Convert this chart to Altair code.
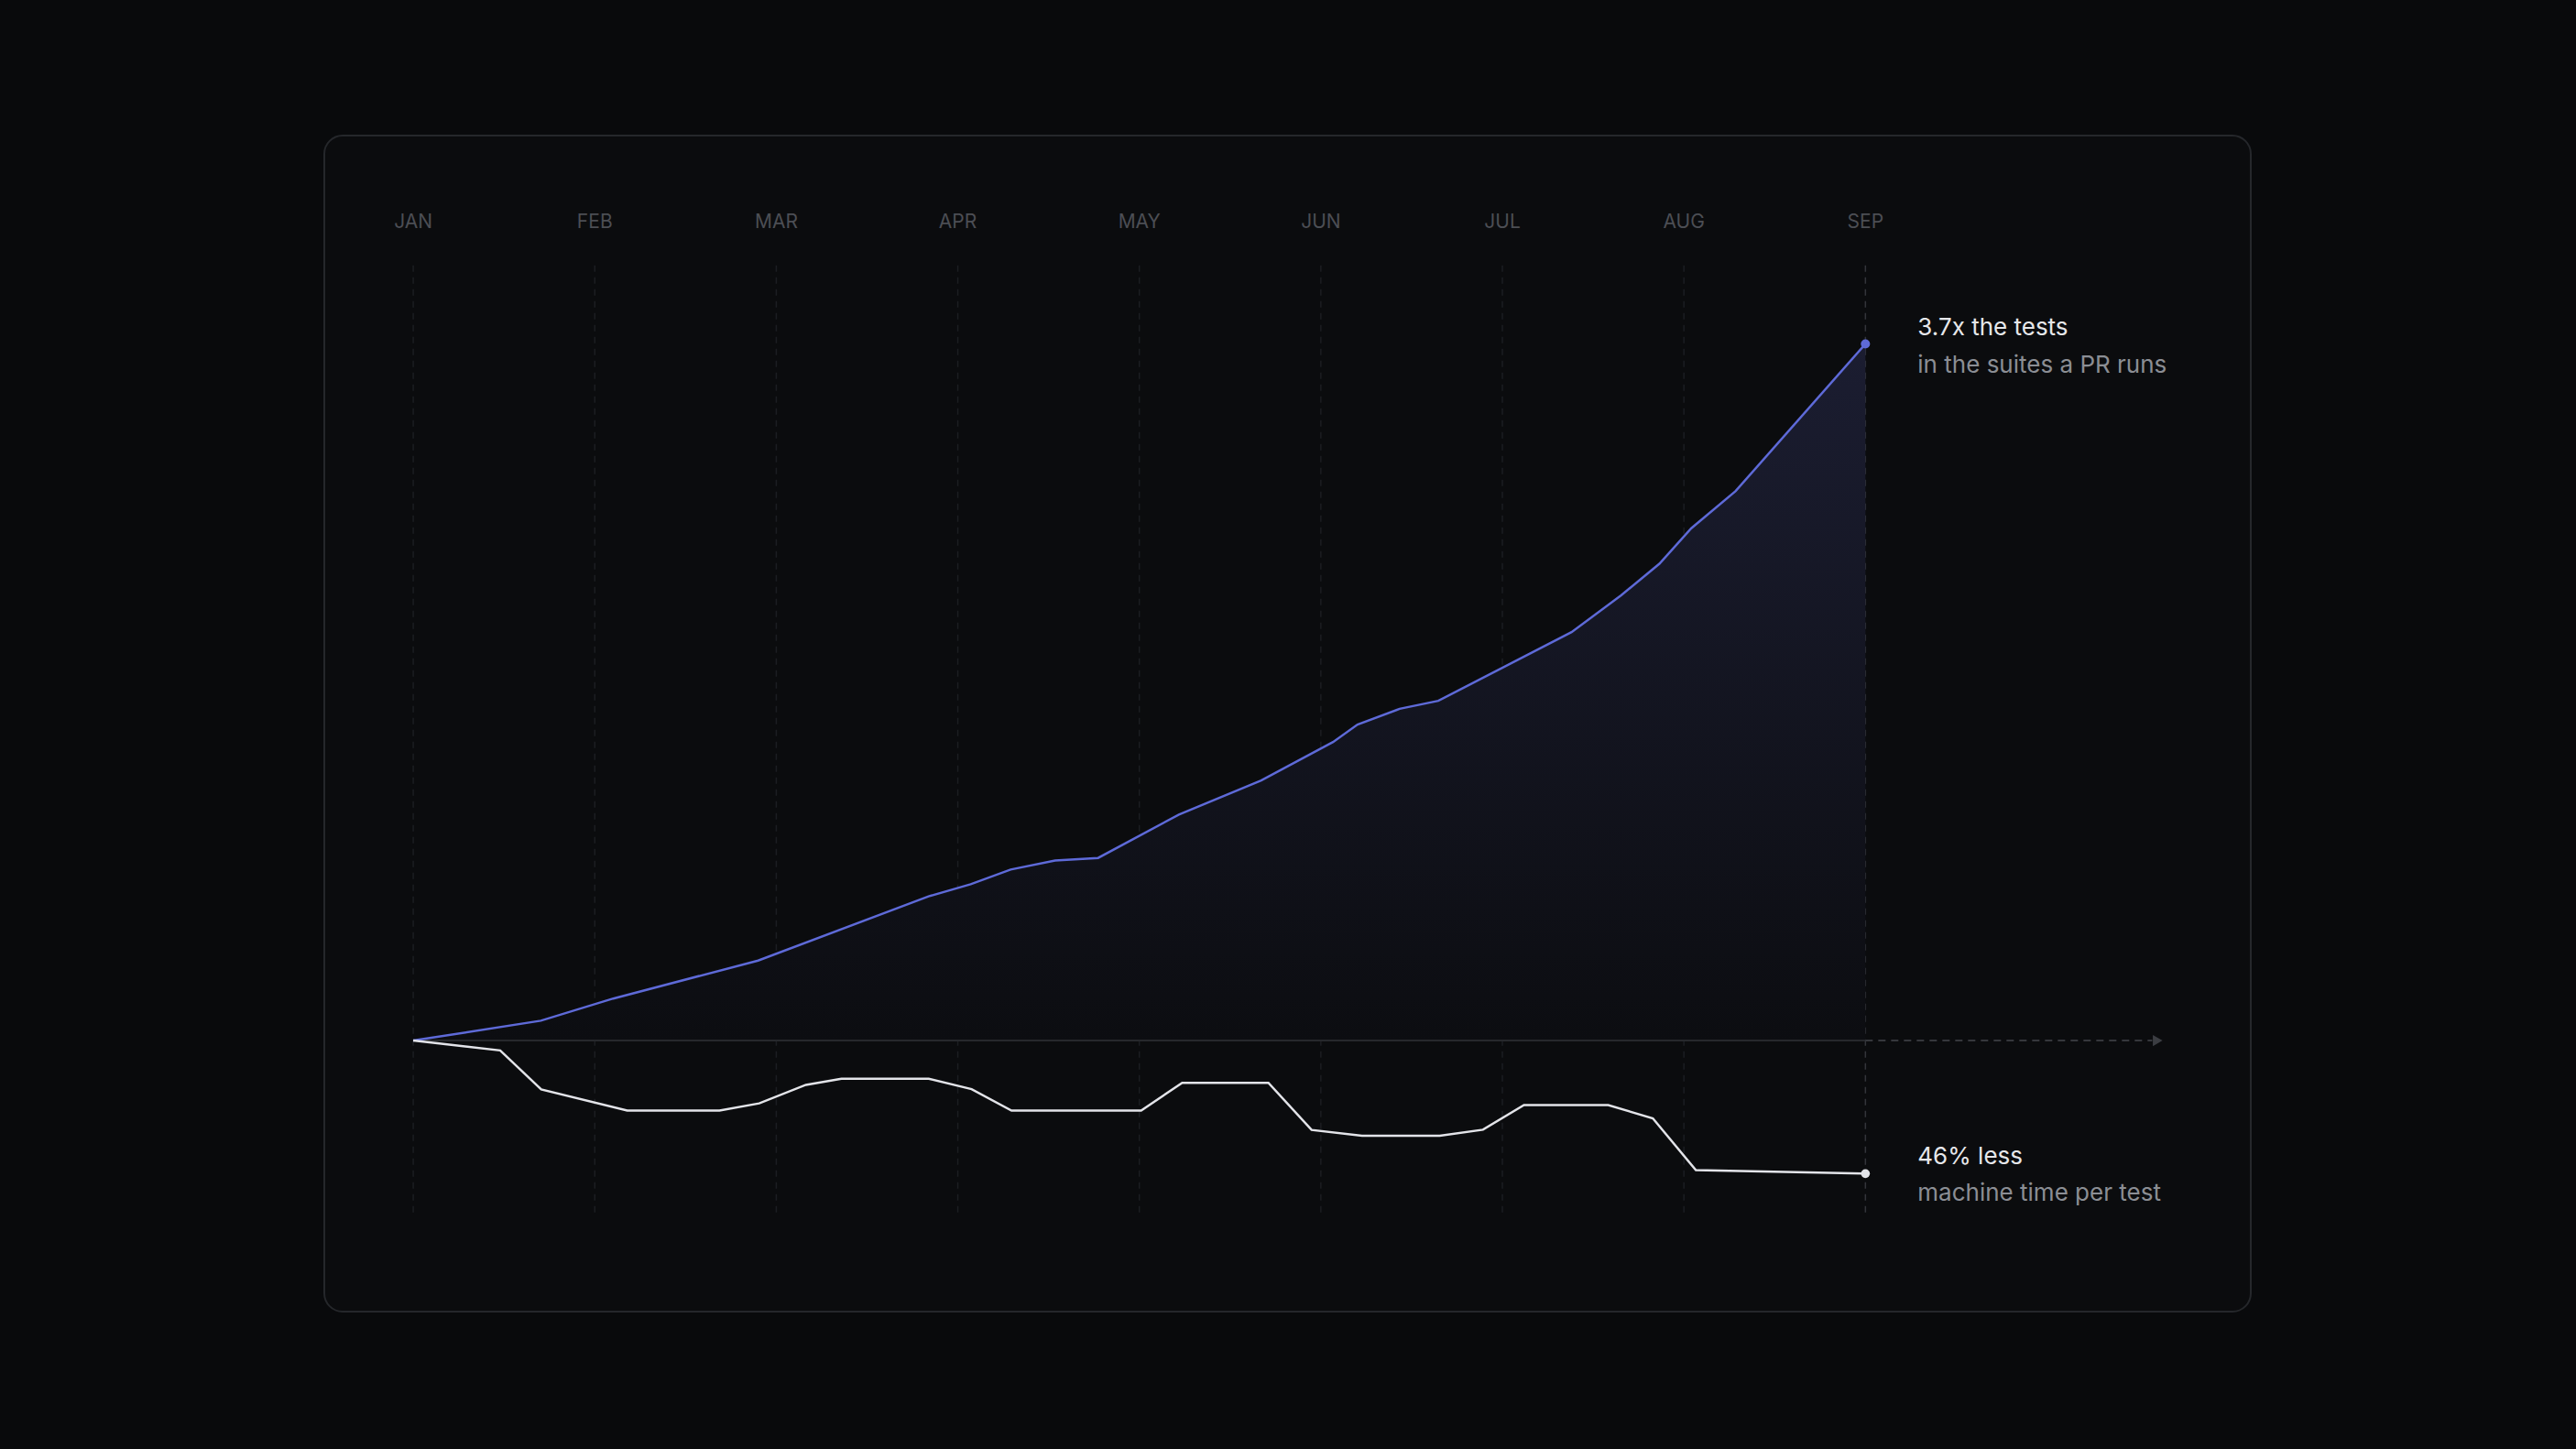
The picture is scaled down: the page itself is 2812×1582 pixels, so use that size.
import altair as alt
import pandas as pd
import jinja2

# ---------------- data ----------------
months = ["JAN", "FEB", "MAR", "APR", "MAY", "JUN", "JUL", "AUG", "SEP"]
month_pos = [0, 1, 2, 3, 4, 5, 6, 7, 8]

# tests in the suites a PR runs (multiple of January)
tests_m = [0, 0.703, 1.102, 1.900, 2.839, 3.071, 3.291, 3.536, 3.773, 4.218, 4.671,
           5.067, 5.202, 5.434, 5.647, 6.381, 6.654, 6.865, 7.041, 7.285, 8.0]
tests_v = [1.0, 1.077, 1.163, 1.310, 1.559, 1.606, 1.663, 1.698, 1.708, 1.876, 2.008,
           2.157, 2.225, 2.286, 2.317, 2.583, 2.726, 2.848, 2.986, 3.130, 3.7]

# machine time per test (relative to January)
time_m = [0, 0.479, 0.705, 1.179, 1.687, 1.906, 2.163, 2.359, 2.840, 3.076, 3.296,
          4.010, 4.236, 4.711, 4.949, 5.227, 5.655, 5.893, 6.119, 6.583, 6.829, 7.066, 8.0]
time_v = [1.0, 0.966, 0.831, 0.758, 0.758, 0.783, 0.847, 0.868, 0.868, 0.832, 0.758,
          0.758, 0.854, 0.854, 0.691, 0.671, 0.671, 0.692, 0.777, 0.777, 0.731, 0.552, 0.54]

tests_label = ["3.7x the tests", "in the suites a PR runs"]
time_label = ["46% less", "machine time per test"]

axis_end = 9.58   # where the dashed time axis ends (arrow)

# ---------------- frames ----------------
months_df = pd.DataFrame({"m": month_pos, "label": months})
tests_df = pd.DataFrame({"m": tests_m, "v": tests_v})
time_df = pd.DataFrame({"m": time_m, "v": time_v})
tests_end = tests_df.tail(1)
time_end = time_df.tail(1)

FONT = "Inter"
BG = "#090a0c"

x_scale = alt.Scale(domain=[-0.490, 10.123], nice=False, zero=False)
ty_scale = alt.Scale(domain=[-0.0506, 4.508], nice=False, zero=False)
wy_scale = alt.Scale(domain=[0.063, 4.129], nice=False, zero=False)

X = alt.X("m:Q", scale=x_scale, axis=None)

grid = alt.Chart(months_df).transform_filter("datum.m < 8").mark_rule(
    color="#1c1e22", strokeWidth=1.5, strokeDash=[7, 6]
).encode(x=X, y=alt.value(141.7), y2=alt.value(1175.7))

grid_sep = alt.Chart(months_df).transform_filter("datum.m == 8").mark_rule(
    color="#33353a", strokeWidth=1.5, strokeDash=[7, 6]
).encode(x=X, y=alt.value(141.7), y2=alt.value(1175.7))

month_text = alt.Chart(months_df).mark_text(
    font=FONT, fontSize=21, color="#4c4e54", baseline="middle", align="center"
).encode(x=X, y=alt.value(95), text="label:N")

gradient = alt.Gradient(
    gradient="linear",
    stops=[alt.GradientStop(color="#1b1d31", offset=0),
           alt.GradientStop(color="#0c0d11", offset=1)],
    x1=0, x2=0, y1=0, y2=1,
)

area = alt.Chart(tests_df).mark_area(color=gradient, line=False).encode(
    x=X, y=alt.Y("v:Q", scale=ty_scale, axis=None), y2=alt.datum(1.0)
)

base_df = pd.DataFrame({"a": [0.0], "b": [8.0], "v": [1.0]})
ext_df = pd.DataFrame({"a": [8.0], "b": [axis_end], "v": [1.0]})
arrow_df = pd.DataFrame({"m": [axis_end + 0.03], "v": [1.0]})

baseline = alt.Chart(base_df).mark_rule(color="#26282c", strokeWidth=2).encode(
    x=alt.X("a:Q", scale=x_scale, axis=None), x2="b:Q",
    y=alt.Y("v:Q", scale=ty_scale, axis=None),
)
baseline_ext = alt.Chart(ext_df).mark_rule(
    color="#35373c", strokeWidth=2, strokeDash=[8, 6]
).encode(
    x=alt.X("a:Q", scale=x_scale, axis=None), x2="b:Q",
    y=alt.Y("v:Q", scale=ty_scale, axis=None),
)
arrow = alt.Chart(arrow_df).mark_point(
    shape="triangle-right", filled=True, color="#3b3d42", size=150, opacity=1
).encode(x=X, y=alt.Y("v:Q", scale=ty_scale, axis=None))

tests_line = alt.Chart(tests_df).mark_line(color="#5e6ad8", strokeWidth=2.5).encode(
    x=X, y=alt.Y("v:Q", scale=ty_scale, axis=None)
)
tests_dot = alt.Chart(tests_end).mark_point(
    filled=True, color="#5e6ad8", size=100, opacity=1
).encode(x=X, y=alt.Y("v:Q", scale=ty_scale, axis=None))

time_line = alt.Chart(time_df).mark_line(color="#e3e4e9", strokeWidth=2.5).encode(
    x=X, y=alt.Y("v:Q", scale=wy_scale, axis=None)
)
time_dot = alt.Chart(time_end).mark_point(
    filled=True, color="#e3e4e9", size=95, opacity=1
).encode(x=X, y=alt.Y("v:Q", scale=wy_scale, axis=None))

t1 = alt.Chart(tests_end).mark_text(
    font=FONT, fontSize=26, color="#e6e7ea", align="left", baseline="alphabetic", dx=57, dy=-10
).encode(x=X, y=alt.Y("v:Q", scale=ty_scale, axis=None), text=alt.value(tests_label[0]))
t2 = alt.Chart(tests_end).mark_text(
    font=FONT, fontSize=26, color="#8b8e94", align="left", baseline="alphabetic", dx=57, dy=31
).encode(x=X, y=alt.Y("v:Q", scale=ty_scale, axis=None), text=alt.value(tests_label[1]))

w1 = alt.Chart(time_end).mark_text(
    font=FONT, fontSize=26, color="#e6e7ea", align="left", baseline="alphabetic", dx=57, dy=-10
).encode(x=X, y=alt.Y("v:Q", scale=wy_scale, axis=None), text=alt.value(time_label[0]))
w2 = alt.Chart(time_end).mark_text(
    font=FONT, fontSize=26, color="#8b8e94", align="left", baseline="alphabetic", dx=57, dy=30
).encode(x=X, y=alt.Y("v:Q", scale=wy_scale, axis=None), text=alt.value(time_label[1]))

chart = alt.layer(
    grid, grid_sep, month_text, area, baseline, baseline_ext, arrow,
    tests_line, time_line, tests_dot, time_dot, t1, t2, w1, w2,
).resolve_scale(y="independent").properties(
    width=2103, height=1284,
    padding={"left": 346, "top": 140, "right": 347, "bottom": 142},
    background=BG,
).configure_view(
    stroke="#25272b", strokeWidth=2, cornerRadius=20, fill="#0b0c0e"
)

# Same page as Altair's standard template, only the page background is dark
PAGE = jinja2.Template("""<!DOCTYPE html>
<html>
<head>
  <style>
    html, body { background: """ + BG + """; }
    #{{ output_div }}.vega-embed {
      width: 100%;
      display: flex;
    }
    #{{ output_div }}.vega-embed details,
    #{{ output_div }}.vega-embed details summary {
      position: relative;
    }
  </style>
  <script type="text/javascript" src="{{ base_url }}/vega@{{ vega_version }}"></script>
  <script type="text/javascript" src="{{ base_url }}/vega-lite@{{ vegalite_version }}"></script>
  <script type="text/javascript" src="{{ base_url }}/vega-embed@{{ vegaembed_version }}"></script>
</head>
<body>
  <div id="{{ output_div }}"></div>
  <script>
    (function(vegaEmbed) {
      var spec = {{ spec }};
      var embedOpt = {{ embed_options }};
      function showError(el, error){
          el.innerHTML = ('<div style="color:red;"><p>JavaScript Error: ' + error.message + '</p></div>');
          throw error;
      }
      const el = document.getElementById('{{ output_div }}');
      vegaEmbed("#{{ output_div }}", spec, embedOpt)
        .catch(error => showError(el, error));
    })(vegaEmbed);
  </script>
</body>
</html>
""")

try:
    chart.save("out.html", embed_options={"renderer": "svg", "actions": False}, template=PAGE)
except Exception:
    chart.save("out.html", embed_options={"renderer": "svg", "actions": False})
